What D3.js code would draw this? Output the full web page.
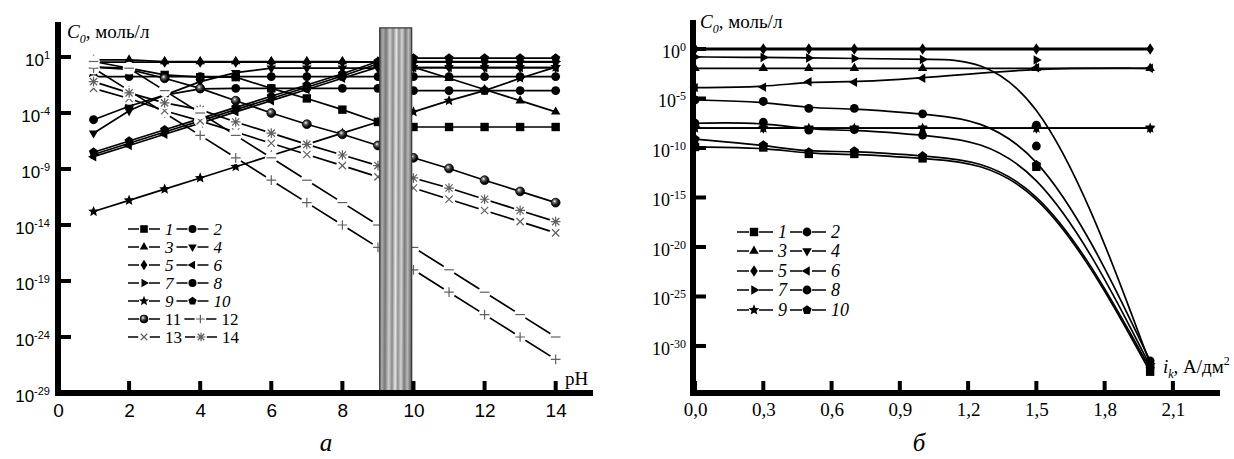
<!DOCTYPE html>
<html>
<head>
<meta charset="utf-8">
<script src="https://cdn.jsdelivr.net/npm/d3@7"></script>
<style>
    body { margin: 0; background: #fff; }
    svg { display: block; }
</style>
</head>
<body>
<svg id="chart" width="1234" height="459"></svg>
<script>
// ---------------------------------------------------------------------------
// Data. Values are log10 of C0 (mol/l).
// ---------------------------------------------------------------------------

// panel a : C0 vs pH
var phA = [1, 2, 3, 4, 5, 6, 7, 8, 9, 10, 11, 12, 13, 14];
var a1 = [0.1, 0.0, -0.6, -0.8, -0.8, -1.8, -2.7, -3.7, -4.8, -5.25, -5.25, -5.25, -5.25, -5.25];
var a2 = [-0.75, -0.75, -0.75, -0.75, -0.75, -0.75, -0.75, -0.75, -0.75, -0.75, -0.75, -0.75, -0.75, -0.75];
var a3 = [0.75, 0.75, 0.6, 0.6, 0.6, 0.6, 0.6, 0.6, 0.55, 0.1, -0.9, -1.9, -2.9, -3.9];
var a4 = [-5.8, -3.8, -2.4, -1.2, -0.4, 0.0, 0.0, 0.0, 0.0, 0.05, 0.05, 0.05, 0.05, 0.05];
var a5 = [0.55, 0.55, 0.55, 0.55, 0.55, 0.55, 0.55, 0.55, 0.55, 0.55, 0.55, 0.55, 0.55, 0.55];
var a6 = [-7.9, -6.9, -5.9, -4.9, -3.9, -2.9, -1.9, -0.9, 0.1, 0.05, 0.05, 0.05, 0.05, 0.05];
var a7 = [-7.7, -6.7, -5.7, -4.7, -3.7, -2.7, -1.7, -0.7, 0.4, 0.6, 0.6, 0.6, 0.6, 0.6];
var a8 = [-4.6, -3.4, -2.4, -1.85, -1.8, -1.8, -1.8, -1.8, -1.8, -2.0, -2.0, -2.0, -2.0, -2.0];
var a9 = [-12.8, -11.8, -10.8, -9.8, -8.8, -7.8, -6.8, -5.8, -4.8, -3.9, -2.9, -2.0, -0.9, 0.1];
var a10 = [-7.5, -6.5, -5.5, -4.5, -3.5, -2.5, -1.5, -0.5, 0.6, 0.9, 0.9, 0.9, 0.9, 0.9];
var a11 = [0.1, -0.1, -0.9, -1.8, -2.9, -4.0, -5.0, -5.9, -6.9, -8.0, -8.95, -10.0, -11.0, -12.0];
var a12 = [0, -2, -4, -6, -8, -10, -12, -14, -16, -18, -20, -22, -24, -26];
var a13 = [-1.8, -2.7, -3.8, -4.7, -5.7, -6.7, -7.7, -8.7, -9.7, -10.7, -11.7, -12.7, -13.7, -14.7];
var a14 = [-1.2, -2.2, -3.1, -3.7, -4.8, -5.8, -6.8, -7.75, -8.7, -9.8, -10.7, -11.7, -12.7, -13.7];
var aDash = [0.6, 0, -2, -4, -6, -8, -10, -12, -14, -16, -18, -20, -22, -24]; // not in legend

// panel b : C0 vs i_k
var ikB = [0, 0.3, 0.5, 0.7, 1.0, 1.5, 2.0];
var b1 = [-9.9, -9.95, -10.6, -10.6, -11.05, -11.9, -32.6];
var b2 = [-5.15, -5.3, -6.0, -6.0, -6.55, -7.7, -31.5];
var b3 = [-1.95, -1.95, -1.95, -1.95, -1.95, -1.95, -1.95];
var b4 = [-8.0, -8.0, -8.0, -8.0, -8.0, -8.0, -8.0];
var b5 = [0, 0, 0, 0, 0, 0, 0];
var b6 = [-3.9, -3.85, -3.3, -3.35, -2.95, -1.9, -1.95];
var b7 = [-0.8, -0.85, -0.9, -0.95, -1.05, -1.1, -31.8];
var b8 = [-7.5, -7.4, -8.2, -8.15, -8.7, -9.8, -32.0];
var b9 = [-8.0, -8.0, -8.0, -8.0, -8.0, -8.0, -8.0];
var b10 = [-9.1, -9.7, -10.4, -10.3, -10.8, -11.7, -32.3];

// ticks
var phTicks = [0, 2, 4, 6, 8, 10, 12, 14];
var expTicksA = [1, -4, -9, -14, -19, -24, -29];
var ikTicks = [0, 0.3, 0.6, 0.9, 1.2, 1.5, 1.8, 2.1];
var expTicksB = [0, -5, -10, -15, -20, -25, -30];

// marker types, one per series number
var markerTypes = ["square", "circle", "triUp", "triDown", "diamond", "triLeft",
    "triRight", "hexagon", "star", "pentagon", "ball", "plus", "times",
    "asterisk"];

var seriesA = [a1, a2, a3, a4, a5, a6, a7, a8, a9, a10, a11, a12, a13, a14]
    .map(function(v, i) { return {n: i + 1, marker: markerTypes[i], values: v}; });
seriesA.push({n: 0, marker: "minus", values: aDash});

var seriesB = [b1, b2, b3, b4, b5, b6, b7, b8, b9, b10]
    .map(function(v, i) { return {n: i + 1, marker: markerTypes[i], values: v}; });

// ---------------------------------------------------------------------------
var svg = d3.select("#chart");
var SERIF = "'Liberation Serif','Times New Roman',serif";
var SANS = "'Liberation Sans',Arial,sans-serif";

var defs = svg.append("defs");
var ball = defs.append("radialGradient").attr("id", "ball")
    .attr("cx", "0.38").attr("cy", "0.35").attr("r", "0.65");
ball.append("stop").attr("offset", "0").attr("stop-color", "#fff");
ball.append("stop").attr("offset", "0.3").attr("stop-color", "#666");
ball.append("stop").attr("offset", "0.7").attr("stop-color", "#111");
ball.append("stop").attr("offset", "1").attr("stop-color", "#000");

var bar = defs.append("linearGradient").attr("id", "bar")
    .attr("x1", "0").attr("x2", "1").attr("y1", "0").attr("y2", "0.04");
[["0", "#666"], ["0.1", "#aaa"], ["0.2", "#777"], ["0.32", "#d0d0d0"],
 ["0.42", "#888"], ["0.52", "#e8e8e8"], ["0.6", "#909090"], ["0.7", "#d4d4d4"],
 ["0.8", "#7a7a7a"], ["0.9", "#b8b8b8"], ["1", "#6e6e6e"]].forEach(function(s) {
    bar.append("stop").attr("offset", s[0]).attr("stop-color", s[1]);
});

// marker shapes ------------------------------------------------------------
function poly(n, r, rot) {
    var pts = d3.range(n).map(function(i) {
        var a = rot + i * 2 * Math.PI / n;
        return [(r * Math.cos(a)).toFixed(2), (r * Math.sin(a)).toFixed(2)];
    });
    return "M" + pts.join("L") + "Z";
}
function circlePath(r) {
    return "M" + r + ",0A" + r + "," + r + " 0 1,1 " + (-r) + ",0A" + r + "," +
        r + " 0 1,1 " + r + ",0Z";
}
function starPath(r) {
    var pts = d3.range(10).map(function(i) {
        var a = -Math.PI / 2 + i * Math.PI / 5, rr = i % 2 ? r * 0.45 : r;
        return [(rr * Math.cos(a)).toFixed(2), (rr * Math.sin(a)).toFixed(2)];
    });
    return "M" + pts.join("L") + "Z";
}
function markerPath(type, s) {
    var d = s * 0.75;
    switch (type) {
    case "square": return "M" + (-s) + "," + (-s) + "h" + 2 * s + "v" + 2 * s + "h" + (-2 * s) + "Z";
    case "circle": case "ball": case "hexagon": return circlePath(s * 1.05);
    case "triUp": return poly(3, s * 1.3, -Math.PI / 2);
    case "triDown": return poly(3, s * 1.3, Math.PI / 2);
    case "triLeft": return poly(3, s * 1.3, Math.PI);
    case "triRight": return poly(3, s * 1.3, 0);
    case "diamond": return "M0," + (-1.35 * s) + "L" + 0.9 * s + ",0L0," + 1.35 * s + "L" + (-0.9 * s) + ",0Z";
    case "pentagon": return poly(5, s * 1.15, -Math.PI / 2);
    case "star": return starPath(s * 1.35);
    case "plus": return "M" + (-s) + ",0H" + s + "M0," + (-s) + "V" + s;
    case "times": return "M" + (-d) + "," + (-d) + "L" + d + "," + d + "M" + (-d) + "," + d + "L" + d + "," + (-d);
    case "asterisk": return "M" + (-s) + ",0H" + s + "M0," + (-s) + "V" + s +
        "M" + (-d) + "," + (-d) + "L" + d + "," + d + "M" + (-d) + "," + d + "L" + d + "," + (-d);
    case "minus": return "M" + (-s) + ",0H" + s;
    }
}
var strokeMarkers = {plus: 1, times: 1, asterisk: 1, minus: 1};

function drawMarker(g, type, x, y, s) {
    if (strokeMarkers[type]) {
        s = s * 1.15;
        g.append("circle").attr("cx", x).attr("cy", y).attr("r", s + 1.5)
            .attr("fill", "#fff");
        g.append("path").attr("transform", "translate(" + x + "," + y + ")")
            .attr("d", markerPath(type, s)).attr("fill", "none")
            .attr("stroke", "#606060").attr("stroke-width", 1.2);
    } else {
        g.append("path").attr("transform", "translate(" + x + "," + y + ")")
            .attr("d", markerPath(type, s))
            .attr("fill", type === "ball" ? "url(#ball)" : "#000")
            .attr("stroke", "#000").attr("stroke-width", type === "ball" ? 0.8 : 0);
    }
}

// axis helpers -------------------------------------------------------------
// d3 axes give the labels; the heavy axis lines and inward ticks are drawn
// as filled rectangles so they stay bold.
function styleAxis(g, font, size) {
    g.attr("font-family", font).attr("font-size", size);
    g.select(".domain").remove();
    g.selectAll(".tick line").remove();
    g.selectAll(".tick text").attr("fill", "#000");
}
function powerLabels(g, supSize) {
    g.selectAll(".tick text").attr("dy", "0.47em").each(function(d) {
        var e = Math.round(Math.log10(d));
        var t = d3.select(this).text(null);
        t.append("tspan").text("10");
        t.append("tspan").attr("dy", "-0.6em").attr("font-size", supSize).text(e);
    });
}
function frame(xs, ys, xTicks, yTicks) {
    var x0 = xs.range()[0], x1 = xs.range()[1];
    var y0 = ys.range()[0], y1 = ys.range()[1];
    var g = svg.append("g").attr("fill", "#000");
    g.append("rect").attr("x", x0 - 3).attr("y", y1)
        .attr("width", 6).attr("height", y0 - y1 + 3);
    g.append("rect").attr("x", x0 - 3).attr("y", y0 - 3)
        .attr("width", x1 - x0 + 3).attr("height", 6);
    xTicks.forEach(function(t) {
        g.append("rect").attr("x", xs(t) - 2).attr("y", y0 - 12)
            .attr("width", 4).attr("height", 10);
    });
    yTicks.forEach(function(t) {
        g.append("rect").attr("x", x0 + 1).attr("y", ys(t) - 2)
            .attr("width", 12).attr("height", 4);
    });
}

// ---------------------------------------------------------------------------
// Panel a
// ---------------------------------------------------------------------------
var xA = d3.scaleLinear().domain([0, 15.05]).range([58, 593]);
var yA = d3.scaleLog().domain([Math.pow(10, -29), Math.pow(10, 4.125)]).range([393, 22]);
var yTickValsA = expTicksA.map(function(e) { return Math.pow(10, e); });

var gxA = svg.append("g").attr("transform", "translate(0,393)")
    .call(d3.axisBottom(xA).tickValues(phTicks).tickSize(0).tickPadding(11));
styleAxis(gxA, SANS, "19px");

var gyA = svg.append("g").attr("transform", "translate(58,0)")
    .call(d3.axisLeft(yA).tickValues(yTickValsA).tickSize(0).tickPadding(8));
styleAxis(gyA, SANS, "17px");
powerLabels(gyA, "11px");

var lineA = d3.line()
    .x(function(d) { return xA(d[0]); })
    .y(function(d) { return yA(Math.pow(10, d[1])); });

var plotA = svg.append("g");
seriesA.forEach(function(s) {
    var pts = phA.map(function(p, i) { return [p, s.values[i]]; });
    plotA.append("path").attr("d", lineA(pts)).attr("fill", "none")
        .attr("stroke", "#000").attr("stroke-width", 1.7);
});
seriesA.forEach(function(s) {
    phA.forEach(function(p, i) {
        drawMarker(plotA, s.marker, xA(p), yA(Math.pow(10, s.values[i])), 4.2);
    });
});

// shaded band between pH 9 and 10
svg.append("rect")
    .attr("x", xA(9.05)).attr("width", xA(9.95) - xA(9.05))
    .attr("y", yA(Math.pow(10, 3.6)))
    .attr("height", yA(Math.pow(10, -29)) - yA(Math.pow(10, 3.6)) - 2)
    .attr("fill", "url(#bar)").attr("stroke", "#333").attr("stroke-width", 1.2);

frame(xA, yA, phTicks, yTickValsA);

// axis titles
var tA = svg.append("text").attr("x", 67).attr("y", 38)
    .attr("font-family", SERIF).attr("font-size", "19px");
tA.append("tspan").attr("font-style", "italic").text("C");
tA.append("tspan").attr("font-style", "italic").attr("font-size", "12px")
    .attr("dy", 5).text("0");
tA.append("tspan").attr("dy", -5).text(", моль/л");

svg.append("text").attr("x", 565).attr("y", 385).attr("font-family", SERIF)
    .attr("font-size", "19px").text("pH");

svg.append("text").attr("x", 326).attr("y", 451).attr("text-anchor", "middle")
    .attr("font-family", SERIF).attr("font-style", "italic")
    .attr("font-size", "25px").text("а");

// legend a
function legend(g, x0, rows, rowY, opts) {
    rows.forEach(function(pair, r) {
        var x = x0, y = rowY[r];
        pair.forEach(function(n) {
            var type = markerTypes[n - 1];
            g.append("path")
                .attr("d", "M" + x + "," + y + "H" + (x + opts.mark - 5) +
                    "M" + (x + opts.mark + 5) + "," + y + "H" + (x + opts.len))
                .attr("stroke", "#000").attr("stroke-width", 1.6);
            drawMarker(g, type, x + opts.mark, y, opts.size);
            var t = g.append("text").attr("x", x + opts.lab).attr("y", y + 5.5)
                .attr("font-family", SERIF).attr("font-size", opts.font)
                .attr("font-style", (opts.upright && n > 10) ? "normal" : "italic")
                .text(n);
            x = x + opts.lab + t.node().getComputedTextLength() + 3;
        });
    });
}
legend(svg.append("g"), 128, [[1, 2], [3, 4], [5, 6], [7, 8], [9, 10], [11, 12], [13, 14]],
    [229, 247, 265, 283, 301, 319, 337],
    {len: 32, mark: 16, lab: 37, size: 3.8, font: "17px", upright: true});

// ---------------------------------------------------------------------------
// Panel b
// ---------------------------------------------------------------------------
var xB = d3.scaleLinear().domain([-0.009, 2.307]).range([693, 1220]);
var yB = d3.scaleLog().domain([Math.pow(10, -34.75), Math.pow(10, 2.93)]).range([393, 20]);
var yTickValsB = expTicksB.map(function(e) { return Math.pow(10, e); });

var gxB = svg.append("g").attr("transform", "translate(0,393)")
    .call(d3.axisBottom(xB).tickValues(ikTicks).tickSize(0).tickPadding(10)
        .tickFormat(function(d) { return d3.format(".1f")(d).replace(".", ","); }));
styleAxis(gxB, SERIF, "19px");

var gyB = svg.append("g").attr("transform", "translate(693,0)")
    .call(d3.axisLeft(yB).tickValues(yTickValsB).tickSize(0).tickPadding(7));
styleAxis(gyB, SERIF, "18px");
powerLabels(gyB, "12px");

frame(xB, yB, ikTicks, yTickValsB);

var lineB = d3.line().curve(d3.curveBasis)
    .x(function(d) { return xB(d[0]); })
    .y(function(d) { return yB(Math.pow(10, d[1])); });

var plotB = svg.append("g");
seriesB.forEach(function(s) {
    var pts = ikB.map(function(p, i) { return [p, s.values[i]]; });
    plotB.append("path").attr("d", lineB(pts)).attr("fill", "none")
        .attr("stroke", "#000").attr("stroke-width", s.n === 5 ? 3 : 1.7);
});
seriesB.forEach(function(s) {
    ikB.forEach(function(p, i) {
        drawMarker(plotB, s.marker, xB(p), yB(Math.pow(10, s.values[i])), 4.2);
    });
});

var tB = svg.append("text").attr("x", 700).attr("y", 28)
    .attr("font-family", SERIF).attr("font-size", "19px");
tB.append("tspan").attr("font-style", "italic").text("C");
tB.append("tspan").attr("font-style", "italic").attr("font-size", "12px")
    .attr("dy", 5).text("0");
tB.append("tspan").attr("dy", -5).text(", моль/л");

var tI = svg.append("text").attr("x", 1163).attr("y", 373)
    .attr("font-family", SERIF).attr("font-size", "19px");
tI.append("tspan").attr("font-style", "italic").text("i");
tI.append("tspan").attr("font-style", "italic").attr("font-size", "12px")
    .attr("dy", 5).text("k");
tI.append("tspan").attr("dy", -5).text(", А/дм");
tI.append("tspan").attr("font-size", "12px").attr("dy", -8).text("2");

svg.append("text").attr("x", 919).attr("y", 451).attr("text-anchor", "middle")
    .attr("font-family", SERIF).attr("font-style", "italic")
    .attr("font-size", "25px").text("б");

legend(svg.append("g"), 737, [[1, 2], [3, 4], [5, 6], [7, 8], [9, 10]],
    [232, 251, 271, 290, 310],
    {len: 36, mark: 17, lab: 41, size: 4.2, font: "18px", upright: false});
</script>
</body>
</html>
